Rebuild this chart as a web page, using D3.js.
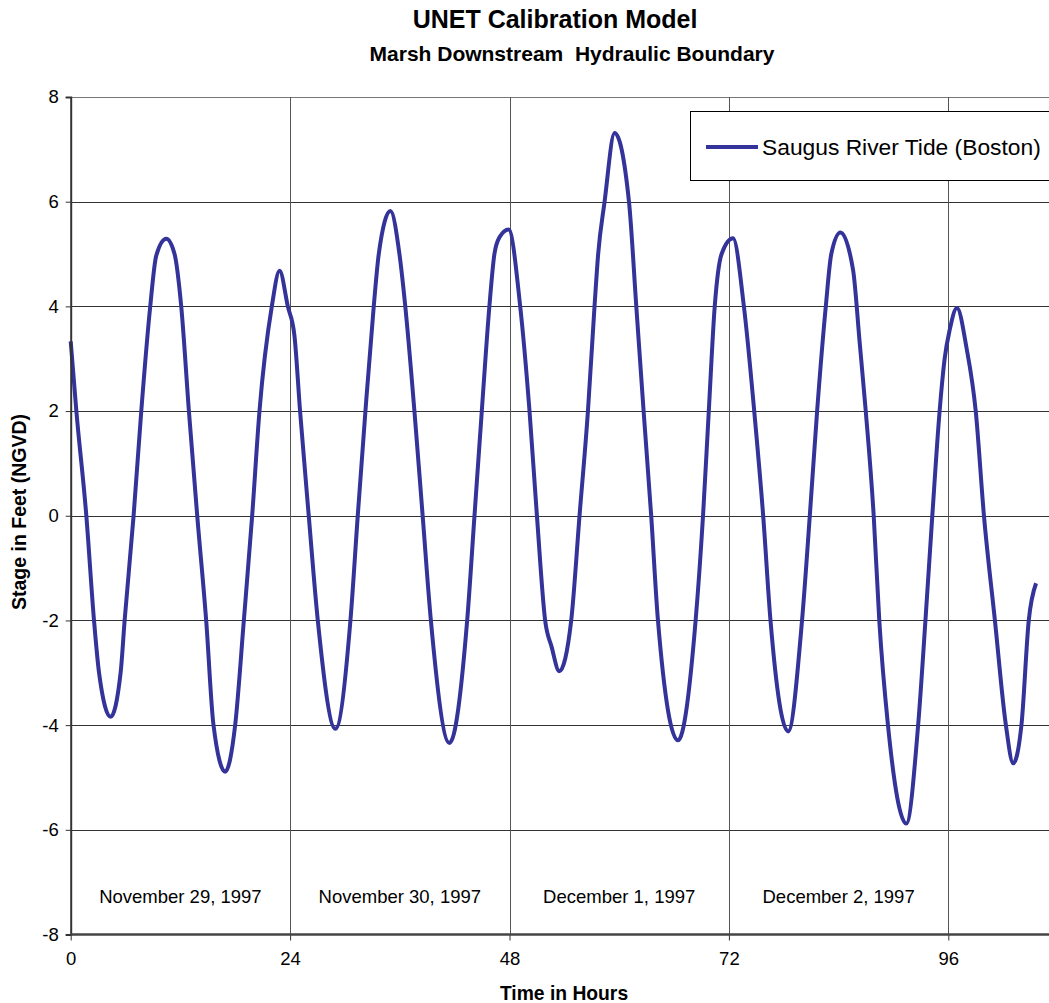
<!DOCTYPE html>
<html>
<head>
<meta charset="utf-8">
<script src="https://cdn.jsdelivr.net/npm/d3@7"></script>
<style>
  html, body { margin: 0; padding: 0; background: #fff; }
  svg { display: block; font-family: Arial, "Liberation Sans", sans-serif; }
</style>
</head>
<body>
<svg id="chart" width="1049" height="1003"></svg>
<script>
// ---- Data ----
const hours = [
  0, 0.62, 1.71, 2.55, 3.1, 4.37, 5.46, 5.9, 6.88, 7.72, 8.7, 9.36, 10.45, 11.36, 12.09, 12.93,
  13.84, 14.82, 15.62, 16.9, 17.99, 18.94, 19.85, 20.65, 22.0, 22.85, 23.75, 24.47, 25.09, 26.04,
  27.03, 28.96, 30.6, 31.4, 32.24, 33.15, 33.7, 34.98, 35.96, 36.6, 37.6, 38.5,
  39.4, 41.43, 43.37, 44.17, 44.97, 45.8, 46.35, 46.9, 47.9, 49.17, 50.19, 51.0,
  51.9, 52.6, 53.45, 54.75, 55.66, 56.58, 57.3, 57.7, 58.4, 59.5, 61.07, 61.87, 62.67, 63.5,
  64.24, 66.43, 68.36, 69.17, 69.8, 70.45, 71.2, 72.45, 73.64, 74.77, 75.75,
  76.55, 78.48, 80.0, 80.85, 81.65, 82.6, 83.2, 84.2, 85.58, 86.3, 86.97,
  87.84, 88.45, 89.4, 91.41, 92.7, 93.5, 94.25, 95.05, 95.6, 96.15, 96.95, 98.0,
  99.0, 99.9, 101.1, 102.3, 103.1, 104.0, 104.8, 105.6
];
const stage = [
  3.33, 2, 0, -2, -3, -3.84, -3, -2, 0, 2, 4, 4.97, 5.29, 5, 4, 2,
  0, -2, -4, -4.89, -4, -2, 0, 2, 4, 4.68, 4, 3.45, 2, 0,
  -2, -4.07, -2, 0, 2, 4, 5, 5.82, 5, 4, 2, 0,
  -2, -4.34, -2, 0, 2, 4, 5, 5.32, 5.47, 4, 2, 0,
  -2, -2.5, -2.97, -2, 0, 2, 4, 5, 6, 7.31, 6, 4, 2, 0,
  -2, -4.29, -2, 0, 2, 4, 5, 5.3, 4, 2, 0,
  -2, -4.12, -2, 0, 2, 4, 5, 5.41, 4.7, 3.32, 2,
  0, -2, -4, -5.88, -4, -2, 0, 2, 3, 3.55, 3.97, 3.2,
  2, 0, -2, -4, -4.73, -4, -2, -1.29
];
const xTicks = [0, 24, 48, 72, 96];
const yTicks = [-8, -6, -4, -2, 0, 2, 4, 6, 8];
const dayLabels = ["November 29, 1997", "November 30, 1997", "December 1, 1997", "December 2, 1997"];
const dayCenters = [12, 36, 60, 84];
const seriesName = "Saugus River Tide (Boston)";
const titleText = "UNET Calibration Model";
const subtitleText = "Marsh Downstream  Hydraulic Boundary";
const xTitle = "Time in Hours";
const yTitle = "Stage in Feet (NGVD)";

(function draw() {
  const svg = d3.select("#chart");
  const pLeft = 70.7, pTop = 97, pBottom = 934.5, pRight = 1049;
  const x = d3.scaleLinear().domain([0, 96]).range([pLeft, 948.3]);
  const y = d3.scaleLinear().domain([-8, 8]).range([pBottom, pTop]);
  const lineColor = "#333399";
  const font = "Arial, 'Liberation Sans', sans-serif";

  // horizontal gridlines
  svg.append("g").selectAll("line").data(yTicks.filter(d => d > -8))
    .join("line")
    .attr("x1", pLeft).attr("x2", pRight)
    .attr("y1", d => Math.round(y(d)) + 0.5).attr("y2", d => Math.round(y(d)) + 0.5)
    .attr("stroke", d => d === 8 ? "#777" : "#333").attr("stroke-width", 1);

  // vertical gridlines
  svg.append("g").selectAll("line").data(xTicks.filter(d => d > 0))
    .join("line")
    .attr("x1", d => Math.round(x(d)) + 0.5).attr("x2", d => Math.round(x(d)) + 0.5)
    .attr("y1", pTop).attr("y2", pBottom)
    .attr("stroke", "#555").attr("stroke-width", 1);

  // day labels
  svg.append("g").selectAll("text").data(dayLabels)
    .join("text")
    .attr("x", (d, i) => x(dayCenters[i]))
    .attr("y", 903)
    .attr("text-anchor", "middle")
    .attr("font-size", 18.5)
    .attr("fill", "#000")
    .text(d => d);

  // series line
  const line = d3.line()
    .x((d, i) => x(hours[i]))
    .y(d => y(d))
    .curve(d3.curveMonotoneX);
  svg.append("path")
    .datum(stage)
    .attr("d", line)
    .attr("fill", "none")
    .attr("stroke", lineColor)
    .attr("stroke-width", 4)
    .attr("stroke-linejoin", "round");

  // y axis
  const yAxis = d3.axisLeft(y).tickValues(yTicks).tickSize(5).tickPadding(7).tickFormat(d => String(d));
  const gy = svg.append("g").attr("transform", `translate(${pLeft},0)`).call(yAxis);
  gy.select(".domain").attr("stroke", "#333").attr("stroke-width", 2);
  gy.selectAll(".tick line").attr("stroke", "#333");
  gy.selectAll(".tick text").attr("font-size", 18.5).attr("font-family", font).attr("fill", "#000");

  // x axis
  const xAxis = d3.axisBottom(x).tickValues(xTicks).tickSize(6).tickPadding(11).tickFormat(d => String(d));
  const gx = svg.append("g").attr("transform", `translate(0,${pBottom})`).call(xAxis);
  gx.select(".domain").remove();
  gx.append("line").attr("x1", pLeft).attr("x2", pRight).attr("y1", 0).attr("y2", 0)
    .attr("stroke", "#444").attr("stroke-width", 2.5);
  gx.selectAll(".tick line").attr("stroke", "#333");
  gx.selectAll(".tick text").attr("font-size", 18.5).attr("font-family", font).attr("fill", "#000");

  // titles
  svg.append("text").attr("x", 555).attr("y", 28).attr("text-anchor", "middle")
    .attr("font-size", 25).attr("font-weight", "bold").text(titleText);
  svg.append("text").attr("x", 572).attr("y", 61).attr("text-anchor", "middle")
    .attr("font-size", 21).attr("font-weight", "bold").style("white-space", "pre").text(subtitleText);
  svg.append("text").attr("x", 564).attr("y", 1000).attr("text-anchor", "middle")
    .attr("font-size", 19.3).attr("font-weight", "bold").text(xTitle);
  svg.append("text").attr("transform", "translate(26,512) rotate(-90)").attr("text-anchor", "middle")
    .attr("font-size", 19.5).attr("font-weight", "bold").text(yTitle);

  // legend
  const lg = svg.append("g");
  lg.append("rect").attr("x", 690.5).attr("y", 111.5).attr("width", 400).attr("height", 69)
    .attr("fill", "#fff").attr("stroke", "#000").attr("stroke-width", 1);
  lg.append("line").attr("x1", 706).attr("x2", 758).attr("y1", 147).attr("y2", 147)
    .attr("stroke", lineColor).attr("stroke-width", 4);
  lg.append("text").attr("x", 762).attr("y", 155).attr("font-size", 22.8).attr("fill", "#000").text(seriesName);
})();
</script>
</body>
</html>
